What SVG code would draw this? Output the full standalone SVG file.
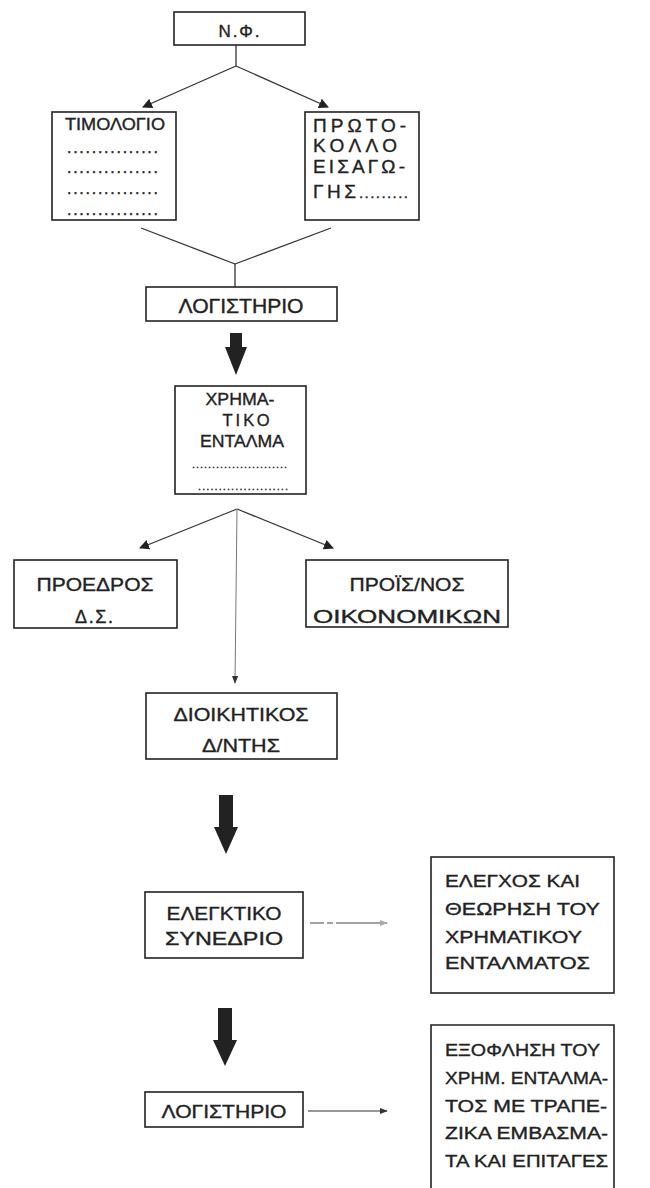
<svg xmlns="http://www.w3.org/2000/svg" width="650" height="1188" viewBox="0 0 650 1188">
<defs>
<style>
.box{fill:none;stroke:#222;stroke-width:1.6}
.t{font-family:"Liberation Sans",Arial,sans-serif;fill:#222;stroke:#222;stroke-width:0.35}
.c{text-anchor:middle}
.ln{fill:none;stroke:#333;stroke-width:1.3}
.thick{fill:#222}
</style>
<marker id="ah" markerWidth="10" markerHeight="10" viewBox="0 0 10 10" refX="9" refY="5" orient="auto" markerUnits="userSpaceOnUse">
<path d="M0,0 L10,5 L0,10 Z" fill="#222"/>
</marker>
<marker id="ahs" markerWidth="8" markerHeight="8" viewBox="0 0 10 10" refX="9" refY="5" orient="auto" markerUnits="userSpaceOnUse">
<path d="M0,1 L10,5 L0,9 Z" fill="#333"/>
</marker>
<marker id="ahf" markerWidth="8" markerHeight="8" viewBox="0 0 10 10" refX="9" refY="5" orient="auto" markerUnits="userSpaceOnUse">
<path d="M0,1 L10,5 L0,9 Z" fill="#aaa"/>
</marker>
</defs>
<rect width="650" height="1188" fill="#fff"/>

<g id="connectors">
<line class="ln" x1="236" y1="45" x2="236" y2="66"/>
<line class="ln" x1="236" y1="66" x2="143" y2="107" marker-end="url(#ah)"/>
<line class="ln" x1="236" y1="66" x2="328" y2="107" marker-end="url(#ah)"/>
<line class="ln" x1="141" y1="228" x2="235" y2="264"/>
<line class="ln" x1="331" y1="228" x2="235" y2="264"/>
<line class="ln" x1="235" y1="264" x2="235" y2="287"/>
<polygon class="thick" points="230,333 242,333 242,347 247,347 236,375 225,347 230,347"/>
<line class="ln" x1="237" y1="509" x2="140" y2="548" marker-end="url(#ah)"/>
<line class="ln" x1="237" y1="509" x2="333" y2="548" marker-end="url(#ah)"/>
<line x1="237" y1="509" x2="235" y2="683" stroke="#777" stroke-width="1" marker-end="url(#ahs)"/>
<polygon class="thick" points="219,795 233,795 233,827 238,827 226,854 214,827 219,827"/>
<line x1="310" y1="923" x2="387" y2="923" stroke="#444" stroke-width="1.2" stroke-dasharray="14,3,6,3,60" marker-end="url(#ahf)"/>
<polygon class="thick" points="218,1008 232,1008 232,1040 237,1040 225,1066 213,1040 218,1040"/>
<line x1="308" y1="1111" x2="387" y2="1111" stroke="#333" stroke-width="1.2" marker-end="url(#ahs)"/>
</g>

<g id="nf">
<rect class="box" x="174" y="12" width="131" height="33"/>
<text class="t c" x="239" y="37" font-size="17" textLength="41">N.Φ.</text>
</g>

<g id="timologio">
<rect class="box" x="52" y="112" width="124" height="108"/>
<text class="t" x="65" y="130" font-size="17" textLength="100" lengthAdjust="spacingAndGlyphs">ΤΙΜΟΛΟΓΙΟ</text>
<text class="t" x="67" y="153" font-size="16" textLength="91">...............</text>
<text class="t" x="67" y="173" font-size="16" textLength="91">...............</text>
<text class="t" x="67" y="194" font-size="16" textLength="91">...............</text>
<text class="t" x="67" y="215" font-size="16" textLength="91">...............</text>
</g>

<g id="protokollo">
<rect class="box" x="305" y="112" width="114" height="108"/>
<text class="t" x="313" y="132" font-size="19" textLength="93">ΠΡΩΤΟ-</text>
<text class="t" x="313" y="152" font-size="19" textLength="84">ΚΟΛΛΟ</text>
<text class="t" x="313" y="173" font-size="19" textLength="92">ΕΙΣΑΓΩ-</text>
<text class="t" x="313" y="198" font-size="19" textLength="43">ΓΗΣ</text>
<text class="t" x="359" y="198" font-size="15" textLength="49">.........</text>
</g>

<g id="logistirio1">
<rect class="box" x="146" y="287" width="191" height="34"/>
<text class="t c" x="241" y="313" font-size="19.5" textLength="125" lengthAdjust="spacingAndGlyphs">ΛΟΓΙΣΤΗΡΙΟ</text>
</g>

<g id="entalma">
<rect class="box" x="175" y="386" width="131" height="108"/>
<text class="t c" x="240" y="405" font-size="16.5" textLength="69" lengthAdjust="spacingAndGlyphs">ΧΡΗΜΑ-</text>
<text class="t c" x="246" y="426" font-size="16.5" textLength="47">ΤΙΚΟ</text>
<text class="t c" x="242" y="447" font-size="16.5" textLength="84" lengthAdjust="spacingAndGlyphs">ΕΝΤΑΛΜΑ</text>
<text class="t" x="192" y="468" font-size="11" textLength="95">........................</text>
<text class="t" x="198" y="490" font-size="11" textLength="90">......................</text>
</g>

<g id="proedros">
<rect class="box" x="14" y="560" width="163" height="68"/>
<text class="t c" x="95" y="591" font-size="18" textLength="117" lengthAdjust="spacingAndGlyphs">ΠΡΟΕΔΡΟΣ</text>
<text class="t c" x="94" y="623" font-size="18" textLength="38">Δ.Σ.</text>
</g>

<g id="proistamenos">
<rect class="box" x="306" y="560" width="202" height="67"/>
<text class="t c" x="407" y="591" font-size="18" textLength="115" lengthAdjust="spacingAndGlyphs">ΠΡΟΪΣ/ΝΟΣ</text>
<text class="t c" x="407" y="623" font-size="18" textLength="188" lengthAdjust="spacingAndGlyphs">ΟΙΚΟΝΟΜΙΚΩΝ</text>
</g>

<g id="dioikitikos">
<rect class="box" x="146" y="693" width="191" height="66"/>
<text class="t c" x="241" y="721" font-size="19" textLength="135" lengthAdjust="spacingAndGlyphs">ΔΙΟΙΚΗΤΙΚΟΣ</text>
<text class="t c" x="241" y="752" font-size="19" textLength="78" lengthAdjust="spacingAndGlyphs">Δ/ΝΤΗΣ</text>
</g>

<g id="elegktiko">
<rect class="box" x="145" y="892" width="158" height="66"/>
<text class="t c" x="224" y="920" font-size="18.5" textLength="115" lengthAdjust="spacingAndGlyphs">ΕΛΕΓΚΤΙΚΟ</text>
<text class="t c" x="224" y="945" font-size="18.5" textLength="118" lengthAdjust="spacingAndGlyphs">ΣΥΝΕΔΡΙΟ</text>
</g>

<g id="elegxos">
<rect class="box" x="431" y="857" width="183" height="136"/>
<text class="t" x="445" y="887" font-size="17" textLength="135" lengthAdjust="spacingAndGlyphs">ΕΛΕΓΧΟΣ ΚΑΙ</text>
<text class="t" x="445" y="915" font-size="17" textLength="155" lengthAdjust="spacingAndGlyphs">ΘΕΩΡΗΣΗ ΤΟΥ</text>
<text class="t" x="445" y="943" font-size="17" textLength="137" lengthAdjust="spacingAndGlyphs">ΧΡΗΜΑΤΙΚΟΥ</text>
<text class="t" x="445" y="969" font-size="17" textLength="145" lengthAdjust="spacingAndGlyphs">ΕΝΤΑΛΜΑΤΟΣ</text>
</g>

<g id="logistirio2">
<rect class="box" x="145" y="1092" width="158" height="35"/>
<text class="t c" x="224" y="1118" font-size="18.5" textLength="125" lengthAdjust="spacingAndGlyphs">ΛΟΓΙΣΤΗΡΙΟ</text>
</g>

<g id="exoflisi">
<path class="box" d="M431,1190 V1025 H614 V1190"/>
<text class="t" x="445" y="1056" font-size="17" textLength="155" lengthAdjust="spacingAndGlyphs">ΕΞΟΦΛΗΣΗ ΤΟΥ</text>
<text class="t" x="445" y="1084" font-size="17" textLength="163" lengthAdjust="spacingAndGlyphs">ΧΡΗΜ. ΕΝΤΑΛΜΑ-</text>
<text class="t" x="445" y="1112" font-size="17" textLength="162" lengthAdjust="spacingAndGlyphs">ΤΟΣ ΜΕ ΤΡΑΠΕ-</text>
<text class="t" x="445" y="1139" font-size="17" textLength="163" lengthAdjust="spacingAndGlyphs">ΖΙΚΑ ΕΜΒΑΣΜΑ-</text>
<text class="t" x="445" y="1167" font-size="17" textLength="163" lengthAdjust="spacingAndGlyphs">ΤΑ ΚΑΙ ΕΠΙΤΑΓΕΣ</text>
</g>
</svg>
